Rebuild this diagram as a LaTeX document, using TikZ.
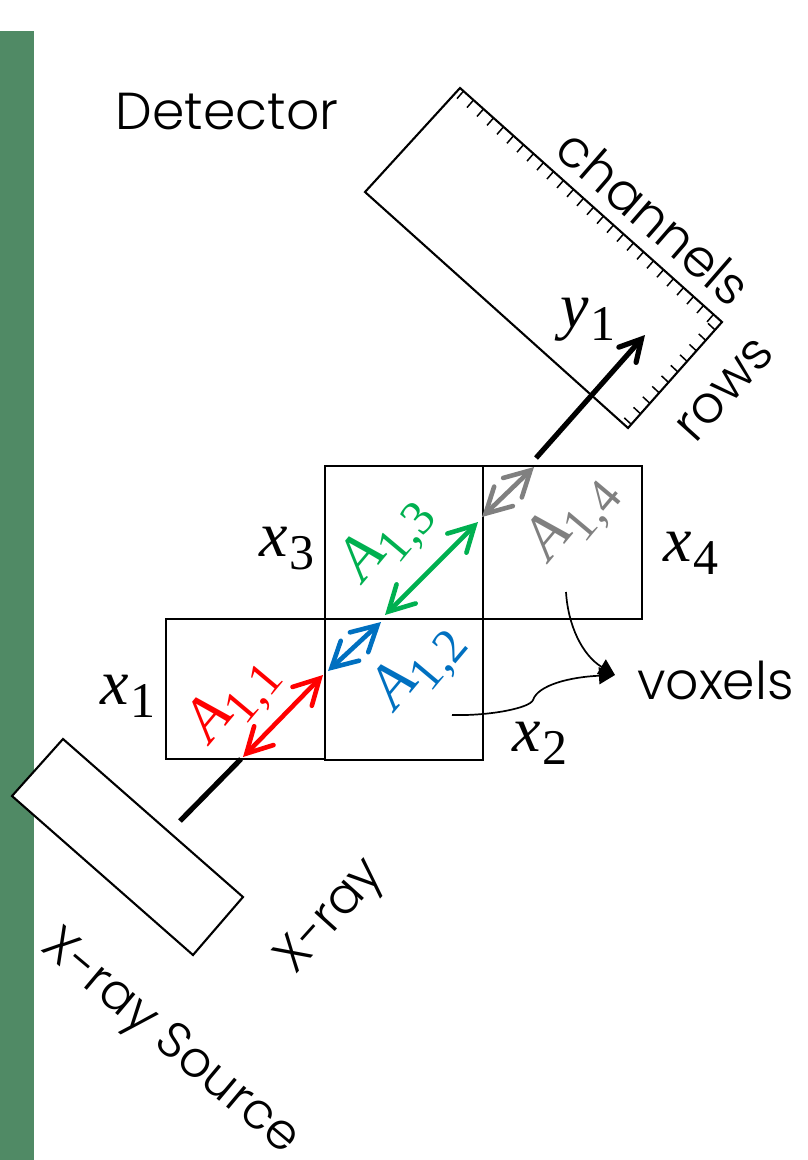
\documentclass[tikz,border=0pt]{standalone}
\usepackage{fontspec}
\setmainfont{Poppins Light}
\newfontfamily\mathserif{Liberation Serif}
\usetikzlibrary{arrows.meta,calc}
\definecolor{sidebar}{RGB}{80,138,101}
\definecolor{redA}{RGB}{255,0,0}
\definecolor{blueA}{RGB}{0,112,192}
\definecolor{greenA}{RGB}{0,176,80}
\definecolor{grayA}{RGB}{128,128,128}
\tikzset{
  outline/.style={draw=black,line width=2.1pt},
  label/.style={font=\fontsize{52}{52}\selectfont,inner sep=0pt,text=black},
  mvar/.style={inner sep=0pt,text=black},
  beam/.style={line width=5.2pt,black},
  dbl/.style={line width=4.6pt,{Straight Barb[length=25pt,width=27pt,line cap=round]}-{Straight Barb[length=25pt,width=27pt,line cap=round]}},
  tickmark/.style={line width=1.5pt,black},
  lead/.style={line width=1.7pt,black,-{Triangle[length=16pt,width=17pt]}},
}
\newcommand{\mv}[2]{{\fontsize{64}{64}\selectfont\mathserif\itshape #1\kern1pt\raisebox{-13pt}{\fontsize{50}{50}\selectfont\upshape #2}}}
\newcommand{\aij}[2]{{\fontsize{62}{62}\selectfont\mathserif\itshape #1\kern-2pt\raisebox{-15pt}{\fontsize{49}{49}\selectfont\upshape #2}}}
\begin{document}
\begin{tikzpicture}[x=1pt,y=-1pt]
\useasboundingbox (0,0) rectangle (807,1160);
\fill[sidebar] (0,31) rectangle (34,1160);

% detector and source
\coordinate (d1) at (460,88);
\coordinate (d2) at (722,322);
\coordinate (d3) at (628,428);
\coordinate (d4) at (365,192);
\draw[outline,line join=miter,fill=white] (d1) -- (d2) -- (d3) -- (d4) -- cycle;
\foreach \t in {0,...,25}{
  \coordinate (p) at ($(d1)!{(\t+0.35)/26.2}!(d2)$);
  \draw[tickmark] (p) -- ++(-6.5,7.5);
}
\foreach \t in {1,...,10}{
  \coordinate (p) at ($(d2)!{(\t-0.25)/10.1}!(d3)$);
  \draw[tickmark] (p) -- ++(-7,-6.5);
}
\coordinate (s1) at (63,739);
\coordinate (s2) at (243,897);
\coordinate (s3) at (193,955);
\coordinate (s4) at (12,796);
\draw[outline,fill=white] (s1) -- (s2) -- (s3) -- (s4) -- cycle;

% voxels
\node[outline,minimum width=159pt,minimum height=140pt,inner sep=0pt,anchor=north west] (v1) at (165,618) {};
\node[outline,minimum width=158pt,minimum height=141pt,inner sep=0pt,anchor=north west] (v2) at (324,618) {};
\node[outline,minimum width=158pt,minimum height=153pt,inner sep=0pt,anchor=north west] (v3) at (324,465) {};
\node[outline,minimum width=159pt,minimum height=153pt,inner sep=0pt,anchor=north west] (v4) at (482,465) {};

% ray points
\coordinate (b0) at (180,821);
\coordinate (b1) at (241,759);
\coordinate (r1) at (243,757);
\coordinate (r2) at (323,675);
\coordinate (bl1) at (328,671);
\coordinate (bl2) at (381,622);
\coordinate (g1) at (385,615);
\coordinate (g2) at (478,522);
\coordinate (gy1) at (482,517);
\coordinate (gy2) at (534,467);
\coordinate (k1) at (536,458);
\coordinate (k2) at (645,335);
\draw[beam,line cap=butt] (b0) -- (b1);
\draw[dbl,redA] (r1) -- (r2);
\draw[dbl,blueA] (bl1) -- (bl2);
\draw[dbl,greenA] (g1) -- (g2);
\draw[dbl,grayA] (gy1) -- (gy2);
\draw[beam,-{Straight Barb[length=21pt,width=23pt,line cap=round]}] (k1) -- (k2);

% labels
\node[label] (detector) at (227,112) {Detector};
\node[label,rotate=-41] (channels) at (654,217) {channels};
\node[label,rotate=48] (rows) at (725,390) {rows};
\node[label,rotate=48,font=\fontsize{50}{50}\selectfont] (xray) at (332,918) {X-ray};
\node[label,rotate=-40,font=\fontsize{50}{50}\selectfont] (source) at (169,1044) {X-ray Source};
\node[label,anchor=west] (voxels) at (637,680) {voxels};

\node[mvar] (ny) at (588,320) {\mv{y}{1}};
\node[mvar] (n1) at (128,696) {\mv{x}{1}};
\node[mvar] (n2) at (540,743) {\mv{x}{2}};
\node[mvar] (n3) at (287,549) {\mv{x}{3}};
\node[mvar] (n4) at (691,553) {\mv{x}{4}};

\node[inner sep=0pt,rotate=50,text=redA] (a1) at (235,701) {\aij{A}{1,1}};
\node[inner sep=0pt,rotate=50,text=blueA] (a2) at (420,668) {\aij{A}{1,2}};
\node[inner sep=0pt,rotate=50,text=greenA] (a3) at (388,540) {\aij{A}{1,3}};
\node[inner sep=0pt,rotate=50,text=grayA] (a4) at (574,519) {\aij{A}{1,4}};

% leaders
\coordinate (t4) at (566,592);
\coordinate (t2) at (452,715);
\coordinate (tip) at (615,675);
\draw[lead] (t4) .. controls (568,625) and (582,655) .. (tip);
\draw[lead] (t2) .. controls (490,716) and (530,708) .. (533,700) .. controls (538,685) and (570,677) .. (tip);
\end{tikzpicture}
\end{document}
